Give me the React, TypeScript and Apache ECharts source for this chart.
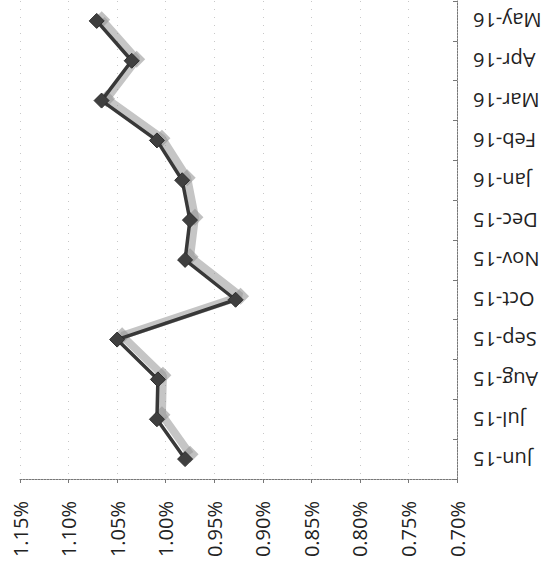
import React, { useEffect, useRef } from "react";
import * as echarts from "echarts";

const months = ["Jun-15", "Jul-15", "Aug-15", "Sep-15", "Oct-15", "Nov-15", "Dec-15", "Jan-16", "Feb-16", "Mar-16", "Apr-16", "May-16"];
const rates = [0.980, 1.009, 1.008, 1.050, 0.928, 0.980, 0.975, 0.983, 1.009, 1.066, 1.035, 1.071];
const valueMin = 0.7;
const valueMax = 1.15;
const valueStep = 0.05;

export default function App() {
  const ref = useRef<HTMLDivElement>(null);
  useEffect(() => {
    if (!ref.current) return;
    const chart = echarts.init(ref.current, null, { renderer: "svg" });
    const font = "'Open Sans', 'DejaVu Sans', sans-serif";
    const hiddenValueAxis = {
      type: "value",
      gridIndex: 1,
      inverse: true,
      min: valueMin,
      max: valueMax,
      interval: valueStep,
      show: false,
    };
    chart.setOption({
      animation: false,
      backgroundColor: "#ffffff",
      grid: [
        { left: 20, right: 95, top: 1, bottom: 90, containLabel: false },
        { left: 25, right: 90, top: -4, bottom: 95, containLabel: false },
      ],
      xAxis: [
        {
          type: "value",
          position: "bottom",
          inverse: true,
          min: valueMin,
          max: valueMax,
          interval: valueStep,
          axisLine: { show: true, lineStyle: { color: "#777", width: 1, type: [2, 1] } },
          axisTick: { show: true, length: 4, lineStyle: { color: "#777" } },
          splitLine: { show: true, lineStyle: { color: "#c8c8c8", type: [1, 7], width: 1 } },
          axisLabel: {
            rotate: 90,
            margin: 22,
            fontFamily: font,
            fontSize: 20,
            color: "#222",
            formatter: (v: number) => v.toFixed(2) + "%",
          },
        },
        hiddenValueAxis,
      ],
      yAxis: [
        {
          type: "category",
          position: "right",
          data: months,
          boundaryGap: true,
          axisLine: { show: true, lineStyle: { color: "#777", width: 1, type: [2, 1] } },
          axisTick: { show: true, inside: true, length: 4, lineStyle: { color: "#777" } },
          splitLine: { show: false },
          axisLabel: {
            rotate: 180,
            margin: 16,
            fontFamily: font,
            fontSize: 20,
            color: "#222",
          },
        },
        { type: "category", gridIndex: 1, data: months, boundaryGap: true, show: false },
      ],
      series: [
        {
          type: "line",
          xAxisIndex: 1,
          yAxisIndex: 1,
          data: rates,
          symbol: "diamond",
          symbolSize: 17,
          z: 1,
          silent: true,
          lineStyle: { color: "rgba(150,150,150,0.55)", width: 8 },
          itemStyle: { color: "rgba(150,150,150,0.6)" },
        },
        {
          type: "line",
          data: rates,
          symbol: "diamond",
          symbolSize: 15,
          z: 3,
          lineStyle: { color: "#383838", width: 3.5 },
          itemStyle: { color: "#3f3f3f", borderColor: "#2e2e2e", borderWidth: 1 },
        },
      ],
    });
    return () => chart.dispose();
  }, []);
  return (
    <div
      ref={ref}
      style={{ position: "fixed", left: 0, top: 0, width: 552, height: 569 }}
    />
  );
}
